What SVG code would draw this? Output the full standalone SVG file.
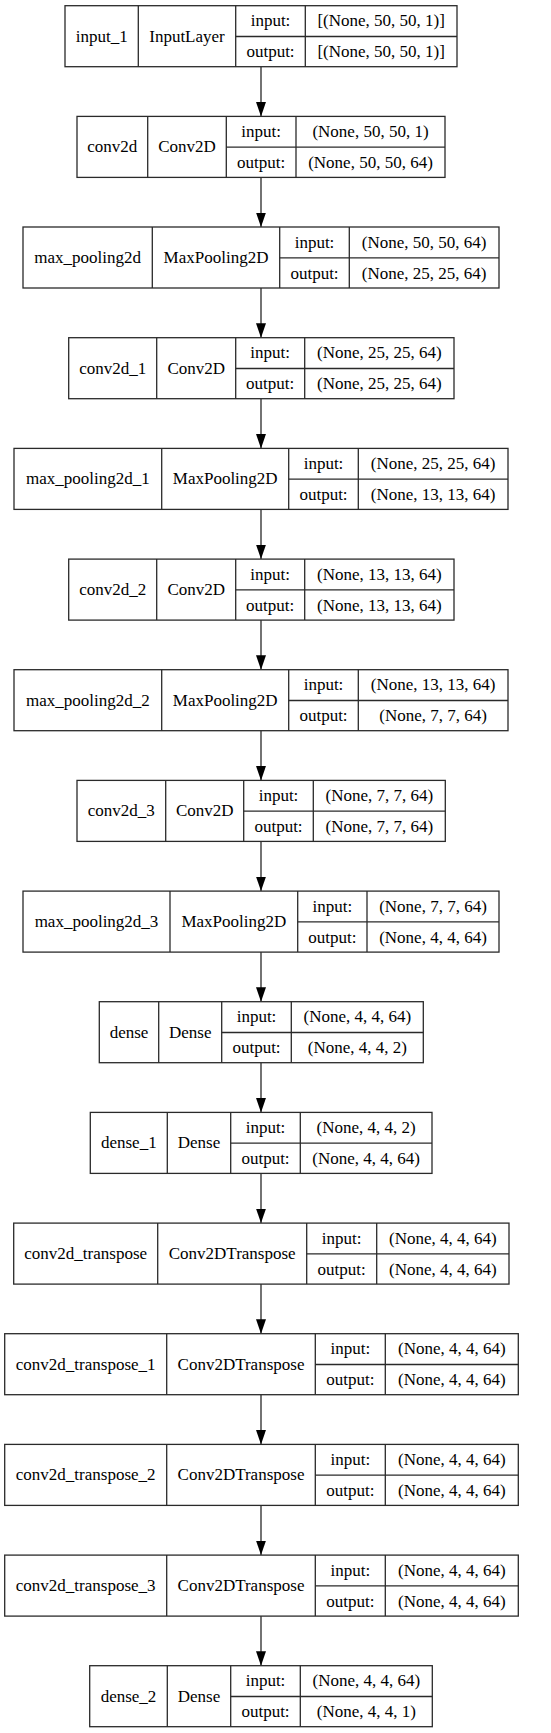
<svg xmlns="http://www.w3.org/2000/svg" width="551" height="1733" viewBox="0 0 551 1733">
<style>
.b{fill:#fff;stroke:#2a2a2a;stroke-width:1.3}
.l{stroke:#2a2a2a;stroke-width:1.3}
text{font-family:'Liberation Serif','Times New Roman','DejaVu Serif',serif;font-size:17px;fill:#000;text-anchor:middle}
.e{stroke:#000;stroke-width:1.1;fill:none}
</style>
<defs>
<marker id="ah" markerUnits="userSpaceOnUse" markerWidth="15" markerHeight="11" refX="14.5" refY="5" orient="auto">
<path d="M0,0 L14.5,5 L0,10 z" fill="#000"/>
</marker>
</defs>
<rect width="551" height="1733" fill="#fff"/>
<g id="connectors">
<line class="e" x1="261" y1="66.7" x2="261" y2="116.4" marker-end="url(#ah)"/>
<line class="e" x1="261" y1="177.4" x2="261" y2="227" marker-end="url(#ah)"/>
<line class="e" x1="261" y1="288" x2="261" y2="337.7" marker-end="url(#ah)"/>
<line class="e" x1="261" y1="398.7" x2="261" y2="448.4" marker-end="url(#ah)"/>
<line class="e" x1="261" y1="509.4" x2="261" y2="559.1" marker-end="url(#ah)"/>
<line class="e" x1="261" y1="620.1" x2="261" y2="669.7" marker-end="url(#ah)"/>
<line class="e" x1="261" y1="730.7" x2="261" y2="780.4" marker-end="url(#ah)"/>
<line class="e" x1="261" y1="841.4" x2="261" y2="891.1" marker-end="url(#ah)"/>
<line class="e" x1="261" y1="952.1" x2="261" y2="1001.7" marker-end="url(#ah)"/>
<line class="e" x1="261" y1="1062.7" x2="261" y2="1112.4" marker-end="url(#ah)"/>
<line class="e" x1="261" y1="1173.4" x2="261" y2="1223.1" marker-end="url(#ah)"/>
<line class="e" x1="261" y1="1284.1" x2="261" y2="1333.7" marker-end="url(#ah)"/>
<line class="e" x1="261" y1="1394.7" x2="261" y2="1444.4" marker-end="url(#ah)"/>
<line class="e" x1="261" y1="1505.4" x2="261" y2="1555.1" marker-end="url(#ah)"/>
<line class="e" x1="261" y1="1616.1" x2="261" y2="1665.7" marker-end="url(#ah)"/>
</g>
<g font-family="'Liberation Serif', 'Times New Roman', 'DejaVu Serif', serif" font-size="17" text-anchor="middle">
<g id="input_1" transform="translate(0,5.7)">
<rect class="b" x="65" y="0" width="392" height="61"/>
<line class="l" x1="138.3" y1="0" x2="138.3" y2="61"/><line class="l" x1="235.7" y1="0" x2="235.7" y2="61"/><line class="l" x1="305.3" y1="0" x2="305.3" y2="61"/><line class="l" x1="235.7" y1="30.8" x2="457" y2="30.8"/>
<text x="101.7" y="36">input_1</text><text x="187" y="36">InputLayer</text>
<text x="270.5" y="20.8">input:</text><text x="270.5" y="51.5">output:</text>
<text x="381.2" y="20.8">[(None, 50, 50, 1)]</text><text x="381.2" y="51.5">[(None, 50, 50, 1)]</text>
</g>

<g id="conv2d" transform="translate(0,116.4)">
<rect class="b" x="77" y="0" width="368" height="61"/>
<line class="l" x1="147.7" y1="0" x2="147.7" y2="61"/><line class="l" x1="226.3" y1="0" x2="226.3" y2="61"/><line class="l" x1="296" y1="0" x2="296" y2="61"/><line class="l" x1="226.3" y1="30.8" x2="445" y2="30.8"/>
<text x="112.3" y="36">conv2d</text><text x="187" y="36">Conv2D</text>
<text x="261.2" y="20.8">input:</text><text x="261.2" y="51.5">output:</text>
<text x="370.5" y="20.8">(None, 50, 50, 1)</text><text x="370.5" y="51.5">(None, 50, 50, 64)</text>
</g>

<g id="max_pooling2d" transform="translate(0,227)">
<rect class="b" x="23" y="0" width="476" height="61"/>
<line class="l" x1="152.3" y1="0" x2="152.3" y2="61"/><line class="l" x1="279.7" y1="0" x2="279.7" y2="61"/><line class="l" x1="349.3" y1="0" x2="349.3" y2="61"/><line class="l" x1="279.7" y1="30.8" x2="499" y2="30.8"/>
<text x="87.7" y="36">max_pooling2d</text><text x="216" y="36">MaxPooling2D</text>
<text x="314.5" y="20.8">input:</text><text x="314.5" y="51.5">output:</text>
<text x="424.2" y="20.8">(None, 50, 50, 64)</text><text x="424.2" y="51.5">(None, 25, 25, 64)</text>
</g>

<g id="conv2d_1" transform="translate(0,337.7)">
<rect class="b" x="68.7" y="0" width="385.3" height="61"/>
<line class="l" x1="156.7" y1="0" x2="156.7" y2="61"/><line class="l" x1="235.7" y1="0" x2="235.7" y2="61"/><line class="l" x1="304.7" y1="0" x2="304.7" y2="61"/><line class="l" x1="235.7" y1="30.8" x2="454" y2="30.8"/>
<text x="112.7" y="36">conv2d_1</text><text x="196.2" y="36">Conv2D</text>
<text x="270.2" y="20.8">input:</text><text x="270.2" y="51.5">output:</text>
<text x="379.3" y="20.8">(None, 25, 25, 64)</text><text x="379.3" y="51.5">(None, 25, 25, 64)</text>
</g>

<g id="max_pooling2d_1" transform="translate(0,448.4)">
<rect class="b" x="14" y="0" width="494" height="61"/>
<line class="l" x1="161.7" y1="0" x2="161.7" y2="61"/><line class="l" x1="288.7" y1="0" x2="288.7" y2="61"/><line class="l" x1="358.3" y1="0" x2="358.3" y2="61"/><line class="l" x1="288.7" y1="30.8" x2="508" y2="30.8"/>
<text x="87.8" y="36">max_pooling2d_1</text><text x="225.2" y="36">MaxPooling2D</text>
<text x="323.5" y="20.8">input:</text><text x="323.5" y="51.5">output:</text>
<text x="433.2" y="20.8">(None, 25, 25, 64)</text><text x="433.2" y="51.5">(None, 13, 13, 64)</text>
</g>

<g id="conv2d_2" transform="translate(0,559.1)">
<rect class="b" x="68.7" y="0" width="385.3" height="61"/>
<line class="l" x1="156.7" y1="0" x2="156.7" y2="61"/><line class="l" x1="235.7" y1="0" x2="235.7" y2="61"/><line class="l" x1="304.7" y1="0" x2="304.7" y2="61"/><line class="l" x1="235.7" y1="30.8" x2="454" y2="30.8"/>
<text x="112.7" y="36">conv2d_2</text><text x="196.2" y="36">Conv2D</text>
<text x="270.2" y="20.8">input:</text><text x="270.2" y="51.5">output:</text>
<text x="379.3" y="20.8">(None, 13, 13, 64)</text><text x="379.3" y="51.5">(None, 13, 13, 64)</text>
</g>

<g id="max_pooling2d_2" transform="translate(0,669.7)">
<rect class="b" x="14" y="0" width="494" height="61"/>
<line class="l" x1="161.7" y1="0" x2="161.7" y2="61"/><line class="l" x1="288.7" y1="0" x2="288.7" y2="61"/><line class="l" x1="358.3" y1="0" x2="358.3" y2="61"/><line class="l" x1="288.7" y1="30.8" x2="508" y2="30.8"/>
<text x="87.8" y="36">max_pooling2d_2</text><text x="225.2" y="36">MaxPooling2D</text>
<text x="323.5" y="20.8">input:</text><text x="323.5" y="51.5">output:</text>
<text x="433.2" y="20.8">(None, 13, 13, 64)</text><text x="433.2" y="51.5">(None, 7, 7, 64)</text>
</g>

<g id="conv2d_3" transform="translate(0,780.4)">
<rect class="b" x="77" y="0" width="368.3" height="61"/>
<line class="l" x1="165.7" y1="0" x2="165.7" y2="61"/><line class="l" x1="243.7" y1="0" x2="243.7" y2="61"/><line class="l" x1="313.3" y1="0" x2="313.3" y2="61"/><line class="l" x1="243.7" y1="30.8" x2="445.3" y2="30.8"/>
<text x="121.3" y="36">conv2d_3</text><text x="204.7" y="36">Conv2D</text>
<text x="278.5" y="20.8">input:</text><text x="278.5" y="51.5">output:</text>
<text x="379.3" y="20.8">(None, 7, 7, 64)</text><text x="379.3" y="51.5">(None, 7, 7, 64)</text>
</g>

<g id="max_pooling2d_3" transform="translate(0,891.1)">
<rect class="b" x="23" y="0" width="476" height="61"/>
<line class="l" x1="170" y1="0" x2="170" y2="61"/><line class="l" x1="297.7" y1="0" x2="297.7" y2="61"/><line class="l" x1="367" y1="0" x2="367" y2="61"/><line class="l" x1="297.7" y1="30.8" x2="499" y2="30.8"/>
<text x="96.5" y="36">max_pooling2d_3</text><text x="233.8" y="36">MaxPooling2D</text>
<text x="332.3" y="20.8">input:</text><text x="332.3" y="51.5">output:</text>
<text x="433" y="20.8">(None, 7, 7, 64)</text><text x="433" y="51.5">(None, 4, 4, 64)</text>
</g>

<g id="dense" transform="translate(0,1001.7)">
<rect class="b" x="99.3" y="0" width="324" height="61"/>
<line class="l" x1="158.7" y1="0" x2="158.7" y2="61"/><line class="l" x1="221.7" y1="0" x2="221.7" y2="61"/><line class="l" x1="291.3" y1="0" x2="291.3" y2="61"/><line class="l" x1="221.7" y1="30.8" x2="423.3" y2="30.8"/>
<text x="129" y="36">dense</text><text x="190.2" y="36">Dense</text>
<text x="256.5" y="20.8">input:</text><text x="256.5" y="51.5">output:</text>
<text x="357.3" y="20.8">(None, 4, 4, 64)</text><text x="357.3" y="51.5">(None, 4, 4, 2)</text>
</g>

<g id="dense_1" transform="translate(0,1112.4)">
<rect class="b" x="90.3" y="0" width="341.7" height="61"/>
<line class="l" x1="167.3" y1="0" x2="167.3" y2="61"/><line class="l" x1="230.7" y1="0" x2="230.7" y2="61"/><line class="l" x1="300.3" y1="0" x2="300.3" y2="61"/><line class="l" x1="230.7" y1="30.8" x2="432" y2="30.8"/>
<text x="128.8" y="36">dense_1</text><text x="199" y="36">Dense</text>
<text x="265.5" y="20.8">input:</text><text x="265.5" y="51.5">output:</text>
<text x="366.2" y="20.8">(None, 4, 4, 2)</text><text x="366.2" y="51.5">(None, 4, 4, 64)</text>
</g>

<g id="conv2d_transpose" transform="translate(0,1223.1)">
<rect class="b" x="13.7" y="0" width="495.3" height="61"/>
<line class="l" x1="157.7" y1="0" x2="157.7" y2="61"/><line class="l" x1="306.7" y1="0" x2="306.7" y2="61"/><line class="l" x1="376.7" y1="0" x2="376.7" y2="61"/><line class="l" x1="306.7" y1="30.8" x2="509" y2="30.8"/>
<text x="85.7" y="36">conv2d_transpose</text><text x="232.2" y="36">Conv2DTranspose</text>
<text x="341.7" y="20.8">input:</text><text x="341.7" y="51.5">output:</text>
<text x="442.8" y="20.8">(None, 4, 4, 64)</text><text x="442.8" y="51.5">(None, 4, 4, 64)</text>
</g>

<g id="conv2d_transpose_1" transform="translate(0,1333.7)">
<rect class="b" x="4.7" y="0" width="513.6" height="61"/>
<line class="l" x1="166.7" y1="0" x2="166.7" y2="61"/><line class="l" x1="315.3" y1="0" x2="315.3" y2="61"/><line class="l" x1="385.3" y1="0" x2="385.3" y2="61"/><line class="l" x1="315.3" y1="30.8" x2="518.3" y2="30.8"/>
<text x="85.7" y="36">conv2d_transpose_1</text><text x="241" y="36">Conv2DTranspose</text>
<text x="350.3" y="20.8">input:</text><text x="350.3" y="51.5">output:</text>
<text x="451.8" y="20.8">(None, 4, 4, 64)</text><text x="451.8" y="51.5">(None, 4, 4, 64)</text>
</g>

<g id="conv2d_transpose_2" transform="translate(0,1444.4)">
<rect class="b" x="4.7" y="0" width="513.6" height="61"/>
<line class="l" x1="166.7" y1="0" x2="166.7" y2="61"/><line class="l" x1="315.3" y1="0" x2="315.3" y2="61"/><line class="l" x1="385.3" y1="0" x2="385.3" y2="61"/><line class="l" x1="315.3" y1="30.8" x2="518.3" y2="30.8"/>
<text x="85.7" y="36">conv2d_transpose_2</text><text x="241" y="36">Conv2DTranspose</text>
<text x="350.3" y="20.8">input:</text><text x="350.3" y="51.5">output:</text>
<text x="451.8" y="20.8">(None, 4, 4, 64)</text><text x="451.8" y="51.5">(None, 4, 4, 64)</text>
</g>

<g id="conv2d_transpose_3" transform="translate(0,1555.1)">
<rect class="b" x="4.7" y="0" width="513.6" height="61"/>
<line class="l" x1="166.7" y1="0" x2="166.7" y2="61"/><line class="l" x1="315.3" y1="0" x2="315.3" y2="61"/><line class="l" x1="385.3" y1="0" x2="385.3" y2="61"/><line class="l" x1="315.3" y1="30.8" x2="518.3" y2="30.8"/>
<text x="85.7" y="36">conv2d_transpose_3</text><text x="241" y="36">Conv2DTranspose</text>
<text x="350.3" y="20.8">input:</text><text x="350.3" y="51.5">output:</text>
<text x="451.8" y="20.8">(None, 4, 4, 64)</text><text x="451.8" y="51.5">(None, 4, 4, 64)</text>
</g>

<g id="dense_2" transform="translate(0,1665.7)">
<rect class="b" x="89.7" y="0" width="342.6" height="61"/>
<line class="l" x1="167.3" y1="0" x2="167.3" y2="61"/><line class="l" x1="230.7" y1="0" x2="230.7" y2="61"/><line class="l" x1="300.3" y1="0" x2="300.3" y2="61"/><line class="l" x1="230.7" y1="30.8" x2="432.3" y2="30.8"/>
<text x="128.5" y="36">dense_2</text><text x="199" y="36">Dense</text>
<text x="265.5" y="20.8">input:</text><text x="265.5" y="51.5">output:</text>
<text x="366.3" y="20.8">(None, 4, 4, 64)</text><text x="366.3" y="51.5">(None, 4, 4, 1)</text>
</g>
</g>
</svg>
